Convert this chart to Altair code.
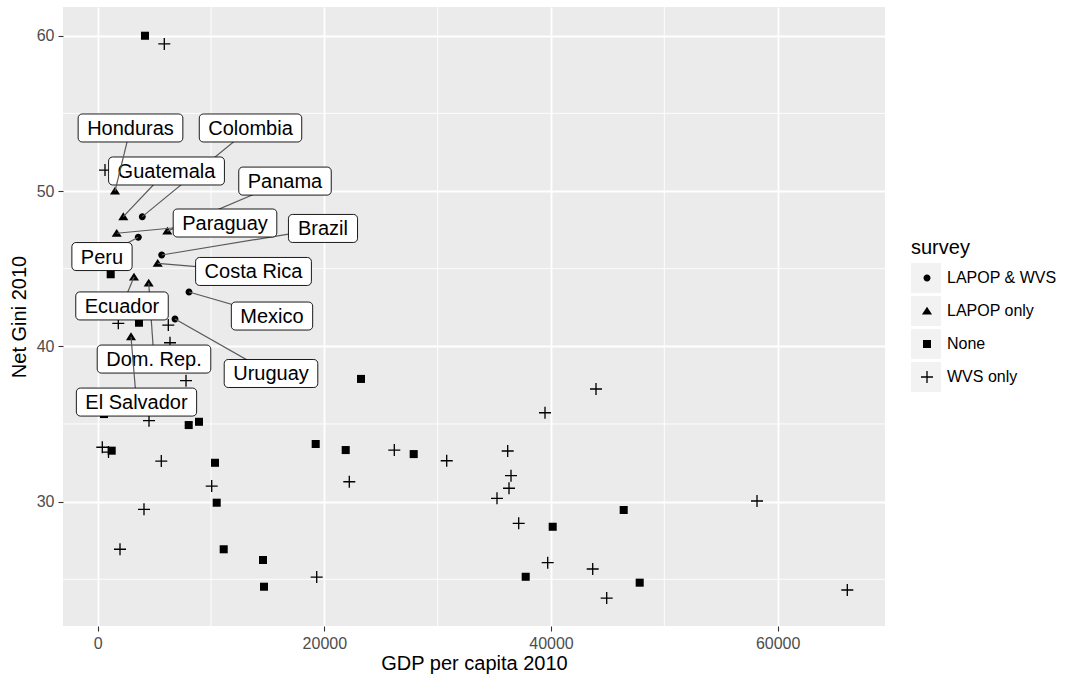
import altair as alt
import pandas as pd

# ---------------- data ----------------
# labelled countries
lab_country = ["Colombia", "Peru", "Brazil", "Mexico", "Uruguay",
               "Honduras", "Guatemala", "Panama", "Paraguay", "Costa Rica",
               "Ecuador", "Dom. Rep.", "El Salvador"]
lab_gdp = [3935, 3582, 5647, 8056, 6821,
           1527, 2259, 6141, 1677, 5294,
           3203, 4500, 2938]
lab_gini = [48.35, 47.02, 45.88, 43.50, 41.76,
            50.00, 48.35, 47.42, 47.28, 45.34,
            44.46, 44.08, 40.62]
lab_survey = ["LAPOP & WVS"] * 5 + ["LAPOP only"] * 8

# unlabelled countries, survey = None
none_gdp = [4174, 1147, 3644, 556, 8030, 8939, 1235, 10351, 10500, 11118,
            14586, 14674, 19236, 21884, 23234, 27884, 40149, 37767, 46414, 47826]
none_gini = [60.00, 44.64, 41.52, 35.64, 34.93, 35.14, 33.28, 32.50, 29.93, 26.93,
             26.24, 24.52, 33.71, 33.32, 37.90, 33.06, 28.38, 25.16, 29.46, 24.78]

# unlabelled countries, survey = WVS only
wvs_gdp = [5877, 644, 1818, 6230, 6380, 7792, 4527, 406, 953, 5612,
           10059, 4085, 1968, 19325, 22201, 26172, 30796, 36178, 36470, 36293,
           35234, 37149, 39470, 43970, 39708, 43679, 44914, 58177, 66145]
wvs_gini = [59.47, 51.35, 41.48, 41.37, 40.23, 37.79, 35.21, 33.50, 33.19, 32.61,
            31.00, 29.50, 26.93, 25.14, 31.28, 33.32, 32.63, 33.26, 31.67, 30.86,
            30.21, 28.60, 35.72, 37.25, 26.07, 25.66, 23.79, 30.04, 24.31]

# repelled label positions (data units)
label_gdp = [13483, 379, 19880, 15380, 15292,
             2894, 6071, 16527, 11233, 13748,
             2144, 4968, 3424]
label_gini = [54.06, 45.78, 47.59, 41.95, 38.25,
              54.06, 51.29, 50.64, 47.94, 44.82,
              42.60, 39.18, 36.41]

survey_levels = ["LAPOP & WVS", "LAPOP only", "None", "WVS only"]
x_ticks = [0, 20000, 40000, 60000]
y_ticks = [30, 40, 50, 60]
x_minor = [10000, 30000, 50000]
y_minor = [25, 35, 45, 55]

# ---------------- layout ----------------
W, H = 822, 619
X_DOM = [-3062, 69471]
Y_DOM = [21.99, 61.85]
FONT = "Liberation Sans"
LABEL_SIZE = 20

pts = pd.DataFrame({
    "gdp": lab_gdp + none_gdp + wvs_gdp,
    "gini": lab_gini + none_gini + wvs_gini,
    "survey": lab_survey + ["None"] * len(none_gdp) + ["WVS only"] * len(wvs_gdp),
})
pts["survey_bg"] = pts["survey"]

# approximate text advance (Arial metrics) to size the label boxes
ADV = {'H': 722, 'o': 556, 'n': 556, 'd': 556, 'u': 556, 'r': 333, 'a': 556, 's': 500,
       'C': 722, 'l': 222, 'm': 833, 'b': 556, 'i': 222, 'G': 778, 't': 278, 'e': 556,
       'P': 667, 'y': 500, 'g': 556, 'B': 722, 'z': 500, ' ': 278, 'R': 722, 'c': 500,
       'E': 667, 'M': 833, 'x': 500, 'D': 722, '.': 278, 'p': 556, 'U': 722, 'S': 667,
       'v': 500}
ux = (X_DOM[1] - X_DOM[0]) / W
uy = (Y_DOM[1] - Y_DOM[0]) / H

labs = pd.DataFrame({"country": lab_country, "gdp": lab_gdp, "gini": lab_gini,
                     "lx": label_gdp, "ly": label_gini})
half_w = [(sum(ADV.get(ch, 556) for ch in c) * LABEL_SIZE / 1000) / 2 + 9 for c in lab_country]
labs["x1"] = [lx - hw * ux for lx, hw in zip(label_gdp, half_w)]
labs["x2"] = [lx + hw * ux for lx, hw in zip(label_gdp, half_w)]
labs["y1"] = [ly - 14 * uy for ly in label_gini]
labs["y2"] = [ly + 14 * uy for ly in label_gini]

xs = alt.Scale(domain=X_DOM, nice=False, zero=False)
ys = alt.Scale(domain=Y_DOM, nice=False, zero=False)
x_axis = alt.Axis(title="GDP per capita 2010", values=x_ticks, format="d")
y_axis = alt.Axis(title="Net Gini 2010", values=y_ticks)

# custom filled symbols (unit box -1..1, drawn at 12 px)
shape_paths = [
    "M-0.58,0A0.58,0.58 0 1,0 0.58,0A0.58,0.58 0 1,0 -0.58,0Z",
    "M0,-0.72L0.84,0.58L-0.84,0.58Z",
    "M-0.67,-0.67H0.67V0.67H-0.67Z",
    "M-1,-0.11H-0.11V-1H0.11V-0.11H1V0.11H0.11V1H-0.11V0.11H-1Z",
]

minor_x = alt.Chart(pd.DataFrame({"v": x_minor})).mark_rule(
    color="white", strokeWidth=0.9).encode(x=alt.X("v:Q", scale=xs, axis=x_axis))
minor_y = alt.Chart(pd.DataFrame({"v": y_minor})).mark_rule(
    color="white", strokeWidth=0.9).encode(y=alt.Y("v:Q", scale=ys, axis=y_axis))

LEG_X, LEG_Y = 848, 231
bg_legend = alt.Chart(pts).mark_square(opacity=0, size=900).encode(
    x=alt.X("gdp:Q", scale=xs, axis=x_axis),
    y=alt.Y("gini:Q", scale=ys, axis=y_axis),
    color=alt.Color("survey_bg:N",
                    scale=alt.Scale(domain=survey_levels, range=["#F2F2F2"] * 4),
                    legend=alt.Legend(orient="none", legendX=LEG_X, legendY=LEG_Y,
                                      title="survey", titleFontSize=20, titleColor="black",
                                      titleFontWeight="normal", titlePadding=5,
                                      labelFontSize=16, labelColor="black", labelOffset=6,
                                      symbolType="square", symbolSize=900,
                                      symbolStrokeWidth=0, symbolOpacity=1,
                                      rowPadding=3, padding=0, zindex=0))
)

points = alt.Chart(pts).mark_point(filled=True, size=144, strokeWidth=0,
                                   opacity=1).encode(
    x=alt.X("gdp:Q", scale=xs, axis=x_axis),
    y=alt.Y("gini:Q", scale=ys, axis=y_axis),
    shape=alt.Shape("survey:N",
                    scale=alt.Scale(domain=survey_levels, range=shape_paths),
                    legend=alt.Legend(orient="none", legendX=LEG_X + 8, legendY=LEG_Y + 7,
                                      title="survey", titleFontSize=20, titleOpacity=0,
                                      titlePadding=5, labelFontSize=16, labelOpacity=0,
                                      symbolSize=144, symbolFillColor="black",
                                      symbolStrokeWidth=0,
                                      symbolOpacity=1, rowPadding=17, padding=0, zindex=1)),
    color=alt.value("black"),
)

layers = [minor_x, minor_y, bg_legend, points]
for name in sorted(lab_country):
    base = alt.Chart(labs).transform_filter(alt.datum.country == name)
    seg = base.mark_rule(color="#5a5a5a", strokeWidth=1.2).encode(
        x=alt.X("gdp:Q", scale=xs, axis=x_axis), y=alt.Y("gini:Q", scale=ys, axis=y_axis),
        x2="lx:Q", y2="ly:Q")
    box = base.mark_rect(fill="white", stroke="black", strokeWidth=0.9,
                         cornerRadius=4).encode(
        x=alt.X("x1:Q", scale=xs, axis=x_axis), x2="x2:Q",
        y=alt.Y("y1:Q", scale=ys, axis=y_axis), y2="y2:Q")
    txt = base.mark_text(fontSize=LABEL_SIZE, font=FONT, color="black",
                         align="center", baseline="middle", dy=1).encode(
        x=alt.X("lx:Q", scale=xs, axis=x_axis), y=alt.Y("ly:Q", scale=ys, axis=y_axis),
        text="country:N")
    layers += [seg, box, txt]

chart = alt.layer(*layers).properties(
    width=W, height=H,
    autosize=alt.AutoSizeParams(type="none"),
    padding={"left": 63, "top": 7, "right": 185, "bottom": 54},
).resolve_legend(color="independent", shape="independent").configure(
    font=FONT
).configure_view(
    fill="#EBEBEB", strokeWidth=0
).configure_axis(
    domain=False, grid=True, gridColor="white", gridWidth=1.8,
    tickColor="#333333", tickWidth=1.1, tickSize=5,
    labelColor="#4D4D4D", labelFontSize=16, labelPadding=4,
    titleColor="black", titleFontSize=20, titleFontWeight="normal",
).configure_axisX(titlePadding=2).configure_axisY(titlePadding=7)

chart.save("out.html", embed_options={"renderer": "svg", "actions": False})
